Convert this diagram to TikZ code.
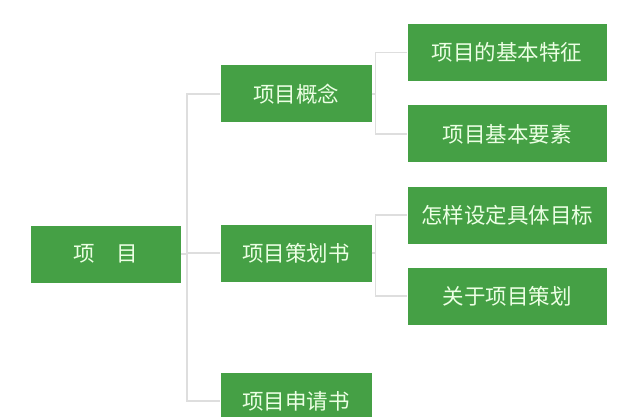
\documentclass[tikz,border=0pt]{standalone}
\usepackage{fontspec}
\newfontfamily\cjk{Noto Sans CJK SC}
\definecolor{boxgreen}{RGB}{69,160,69}
\definecolor{boxtext}{RGB}{236,255,228}
\definecolor{linegray}{RGB}{222,222,222}
\begin{document}
\begin{tikzpicture} [x = 1pt, y = -1pt,
	item/.style = {fill = boxgreen, text = boxtext, minimum height = 57pt, inner sep = 0pt, font = \cjk\fontsize{21.5}{25}\selectfont},
	mid/.style = {item, minimum width = 151pt},
	leaf/.style = {item, minimum width = 199pt},
	link/.style = {linegray, line width = 1.5pt}]
	\clip (0,0) rectangle (640,417);
	\fill [white] (0,0) rectangle (640,417);
	% first level
	\node [item, minimum width = 150pt] (root) at (106,254) {项\hspace{1em}目};
	\node [mid] (concept) at (296,94) {项目概念};
	\node [mid] (plan) at (296,253) {项目策划书};
	\node [mid] (apply) at (296,401) {项目申请书};
	% second level
	\node [leaf] (feature) at (507,52.5) {项目的基本特征};
	\node [leaf] (element) at (507,134) {项目基本要素};
	\node [leaf] (goal) at (507,215) {怎样设定具体目标};
	\node [leaf] (about) at (507,296) {关于项目策划};
	\draw [link] (root.east) -- ++(6,0) coordinate (trunk);
	\draw [link] (trunk) |- (concept.west);
	\draw [link] (trunk) |- (plan.west);
	\draw [link] (trunk) |- (apply.west);
	\draw [link] (concept.east) -- ++(4,0) coordinate (cfork);
	\draw [link] (cfork) |- (feature.west);
	\draw [link] (cfork) |- (element.west);
	\draw [link] (plan.east) -- ++(4,0) coordinate (pfork);
	\draw [link] (pfork) |- (goal.west);
	\draw [link] (pfork) |- (about.west);
\end{tikzpicture}
\end{document}
